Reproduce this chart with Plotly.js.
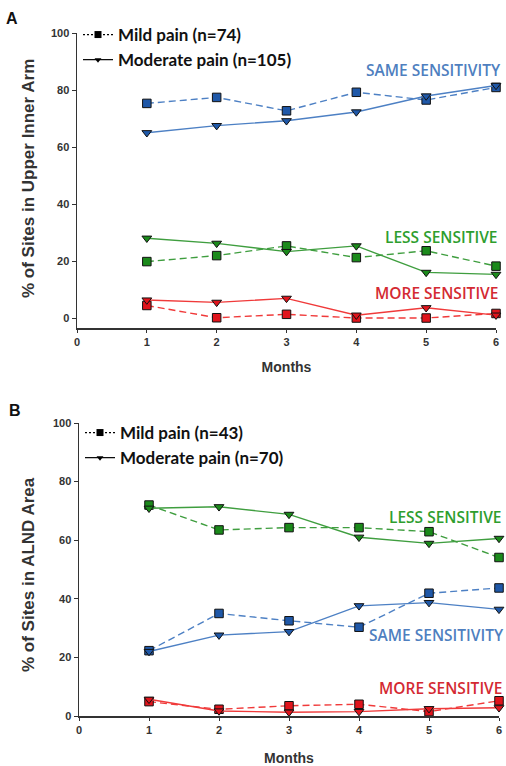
<!DOCTYPE html>
<html><head><meta charset="utf-8">
<script src="https://cdn.plot.ly/plotly-3.0.1.min.js"></script>
<style>html,body{margin:0;padding:0;background:#fff}#chart{width:506px;height:766px}</style>
</head><body><div id="chart"></div>
<script>
const months = [1, 2, 3, 4, 5, 6];
// Panel A: Upper Inner Arm
const aSameMild = [75.3, 77.4, 72.7, 79.2, 76.5, 80.9];
const aSameMod  = [65.0, 67.5, 69.2, 72.3, 77.9, 81.6];
const aLessMild = [19.8, 21.9, 25.3, 21.2, 23.6, 18.2];
const aLessMod  = [28.0, 26.2, 23.3, 25.3, 16.0, 15.3];
const aMoreMild = [4.4, 0.1, 1.3, 0.0, 0.0, 1.6];
const aMoreMod  = [6.3, 5.5, 6.9, 1.0, 3.6, 1.0];
// Panel B: ALND Area
const bLessMild = [72.0, 63.5, 64.3, 64.3, 62.9, 54.1];
const bLessMod  = [70.9, 71.4, 68.8, 61.0, 58.9, 60.6];
const bSameMild = [22.3, 35.0, 32.5, 30.3, 41.9, 43.7];
const bSameMod  = [22.0, 27.6, 28.8, 37.6, 38.7, 36.4];
const bMoreMild = [4.9, 2.3, 3.5, 4.0, 1.5, 5.2];
const bMoreMod  = [5.7, 1.7, 1.3, 1.5, 2.5, 2.8];
const xTicks = [0, 1, 2, 3, 4, 5, 6];
const yTicks = [0, 20, 40, 60, 80, 100];
const legendA = ['Mild pain (n=74)', 'Moderate pain (n=105)'];
const legendB = ['Mild pain (n=43)', 'Moderate pain (n=70)'];

const C = {
  blue: {line: '#4d80c4', fill: '#1f58a8'},
  green: {line: '#3f9e3f', fill: '#1b8a1b'},
  red: {line: '#f03a3a', fill: '#e0141c'}
};

function tr(y, col, mild, xa, ya) {
  return {
    x: months, y: y, xaxis: xa, yaxis: ya, type: 'scatter', mode: 'lines+markers',
    showlegend: false, cliponaxis: false, hoverinfo: 'skip',
    line: {color: C[col].line, width: 1.4, dash: mild ? '7px,4px' : 'solid'},
    marker: {symbol: mild ? 'square' : 'triangle-down', size: 8.5,
             color: C[col].fill, line: {color: '#111', width: 1}}
  };
}
function leg(name, mild, lg) {
  return {
    x: [null], y: [null], type: 'scatter', mode: 'lines+markers', name: name, legend: lg,
    line: {color: '#000', width: 1.2, dash: mild ? '2px,2px' : 'solid'},
    marker: {symbol: mild ? 'square' : 'triangle-down', size: mild ? 7 : 6, color: '#000'}
  };
}

const data = [
  tr(aSameMild, 'blue', true, 'x', 'y'), tr(aSameMod, 'blue', false, 'x', 'y'),
  tr(aLessMild, 'green', true, 'x', 'y'), tr(aLessMod, 'green', false, 'x', 'y'),
  tr(aMoreMild, 'red', true, 'x', 'y'), tr(aMoreMod, 'red', false, 'x', 'y'),
  tr(bLessMild, 'green', true, 'x2', 'y2'), tr(bLessMod, 'green', false, 'x2', 'y2'),
  tr(bSameMild, 'blue', true, 'x2', 'y2'), tr(bSameMod, 'blue', false, 'x2', 'y2'),
  tr(bMoreMild, 'red', true, 'x2', 'y2'), tr(bMoreMod, 'red', false, 'x2', 'y2'),
  leg(legendA[0], true, 'legend'), leg(legendA[1], false, 'legend'),
  leg(legendB[0], true, 'legend2'), leg(legendB[1], false, 'legend2')
];

const tickFont = {family: 'Liberation Sans, Arial, sans-serif', size: 11, color: '#333', weight: 'bold'};
function xax(dom, anchor, standoff) {
  return {domain: dom, anchor: anchor, range: [0, 6], tickvals: xTicks, ticktext: xTicks.map(String),
    showline: true, linecolor: '#333', linewidth: 1.5, ticks: 'outside', ticklen: 3, tickcolor: '#333',
    showgrid: false, zeroline: false, tickfont: tickFont, fixedrange: true,
    title: {text: '<b>Months</b>', font: {family: 'Liberation Sans, Arial, sans-serif', size: 14, color: '#333'}, standoff: standoff}};
}
function yax(dom, anchor, range) {
  return {domain: dom, anchor: anchor, range: range, tickvals: yTicks, ticktext: yTicks.map(String),
    showline: true, linecolor: '#333', linewidth: 1.5, ticks: 'outside', ticklen: 4, tickcolor: '#333',
    showgrid: false, zeroline: false, tickfont: tickFont, fixedrange: true};
}

const legFont = {family: 'Lato, Open Sans, sans-serif', size: 17, color: '#111', weight: 'bold'};
const lblFont = (c) => ({family: 'Open Sans, Lato, sans-serif', size: 15.5, color: c, weight: 600});
function lbl(text, color, xpx, ypx) {
  return {text: text, xref: 'paper', yref: 'paper', x: xpx/506, y: 1 - ypx/766,
          xanchor: 'right', yanchor: 'middle', showarrow: false, font: lblFont(color)};
}
function ytitle(text, ypx) {
  return {text: '<b>' + text + '</b>', xref: 'paper', yref: 'paper', x: 28/506, y: 1 - ypx/766,
          xanchor: 'center', yanchor: 'middle', textangle: -90, showarrow: false,
          font: {family: 'Liberation Sans, Arial', size: 17, color: '#333'}};
}
function panel(text, xpx, ypx) {
  return {text: '<b>' + text + '</b>', xref: 'paper', yref: 'paper', x: xpx/506, y: 1 - ypx/766,
          xanchor: 'center', yanchor: 'middle', showarrow: false,
          font: {family: 'Liberation Sans, Arial', size: 16, color: '#111'}};
}

const layout = {
  width: 506, height: 766, margin: {l: 0, r: 0, t: 0, b: 0},
  paper_bgcolor: '#fff', plot_bgcolor: '#fff',
  xaxis: xax([77/506, 496/506], 'y', 15),
  yaxis: yax([(766-328)/766, (766-33)/766], 'x', [-3.5, 100]),
  xaxis2: xax([79/506, 499/506], 'y2', 19),
  yaxis2: yax([(766-716)/766, (766-423)/766], 'x2', [0, 100]),
  legend: {x: 78/506, y: 1 - 17/766, xanchor: 'left', yanchor: 'top', bgcolor: 'rgba(0,0,0,0)',
           font: legFont, tracegroupgap: 0, itemwidth: 30},
  legend2: {x: 80/506, y: 1 - 415/766, xanchor: 'left', yanchor: 'top', bgcolor: 'rgba(0,0,0,0)',
           font: legFont, tracegroupgap: 0, itemwidth: 30},
  annotations: [
    panel('A', 12, 18), panel('B', 15, 410),
    ytitle('% of Sites in Upper Inner Arm', 179),
    ytitle('% of Sites in ALND Area', 575),
    lbl('SAME SENSITIVITY', '#4f7fbf', 503, 70),
    lbl('LESS SENSITIVE', '#2e9e2e', 500, 237),
    lbl('MORE SENSITIVE', '#d42a32', 500, 293),
    lbl('LESS SENSITIVE', '#2e9e2e', 504, 517),
    lbl('SAME SENSITIVITY', '#4f7fbf', 506, 635),
    lbl('MORE SENSITIVE', '#d42a32', 504, 688)
  ]
};

Plotly.newPlot('chart', data, layout, {staticPlot: true, displayModeBar: false});
</script></body></html>
